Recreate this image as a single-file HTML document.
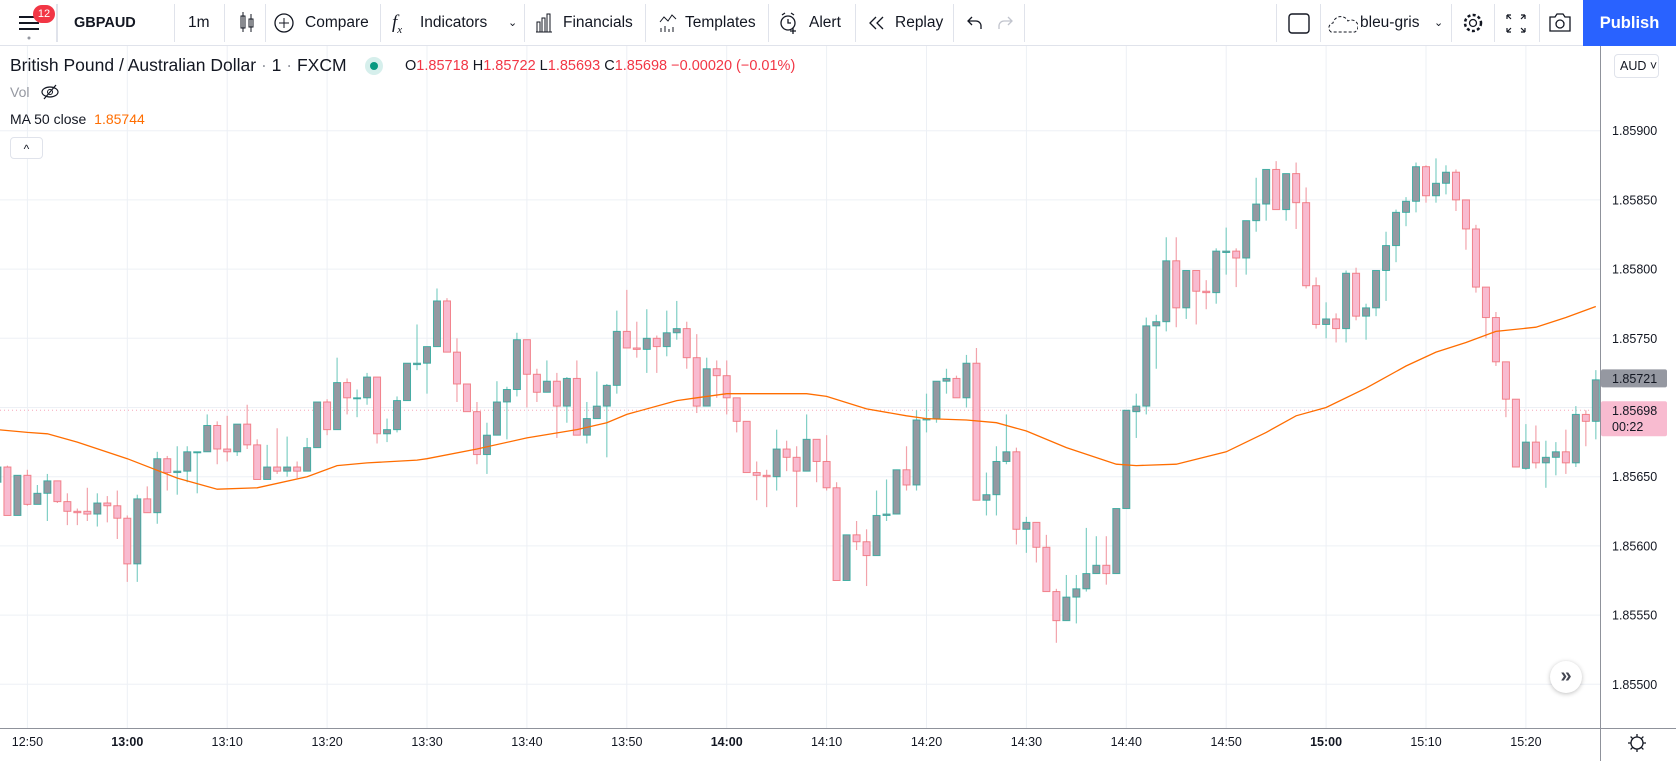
<!DOCTYPE html>
<html><head><meta charset="utf-8">
<style>
*{box-sizing:border-box;margin:0;padding:0}
body{width:1676px;height:761px;overflow:hidden;background:#fff;font-family:"Liberation Sans",sans-serif;color:#131722;position:relative}
.tb{position:absolute;left:0;top:0;width:1676px;height:46px;border-bottom:1px solid #e0e3eb;background:#fff}
.it{position:absolute;top:0;height:46px;line-height:46px;font-size:15.5px;color:#131722;white-space:nowrap}
.sep{position:absolute;top:4px;width:1px;height:38px;background:#e0e3eb}
.lg{position:absolute;white-space:nowrap}
</style></head><body>
<div class="tb">
  <div class="it" style="left:18px">
    <svg width="24" height="46"><rect x="1" y="16" width="20" height="2" fill="#131722"/><rect x="1" y="22" width="20" height="2" fill="#131722"/><rect x="1" y="28" width="20" height="2" fill="#131722"/><circle cx="11" cy="38" r="1.5" fill="#9598a1"/></svg>
  </div>
  <div style="position:absolute;left:33px;top:5px;width:22px;height:18px;border-radius:9px;background:#f23645;color:#fff;font-size:11px;line-height:18px;text-align:center">12</div>
  <div class="sep" style="left:56px;width:2px"></div>
  <div class="it" style="left:74px;font-weight:bold;font-size:14.5px">GBPAUD</div>
  <div class="sep" style="left:174px"></div>
  <div class="it" style="left:188px">1m</div>
  <div class="sep" style="left:224px"></div>
  <div class="it" style="left:238px"><svg width="18" height="46"><rect x="3" y="16" width="4" height="12" fill="none" stroke="#131722"/><line x1="5" y1="12" x2="5" y2="32" stroke="#131722"/><rect x="11" y="19" width="4" height="8" fill="none" stroke="#131722"/><line x1="13" y1="14" x2="13" y2="32" stroke="#131722"/></svg></div>
  <div class="sep" style="left:265px"></div>
  <div class="it" style="left:274px"><svg width="20" height="46" style="vertical-align:top"><circle cx="10" cy="23" r="9" fill="none" stroke="#131722" stroke-width="1.3"/><line x1="10" y1="18" x2="10" y2="28" stroke="#131722"/><line x1="5" y1="23" x2="15" y2="23" stroke="#131722"/></svg><span style="position:absolute;left:31px">Compare</span></div>
  <div class="sep" style="left:380px"></div>
  <div class="it" style="left:392px;font-style:italic;font-family:'Liberation Serif',serif;font-size:19px">f<sub style="font-size:11px">x</sub></div>
  <div class="it" style="left:420px">Indicators</div>
  <div class="it" style="left:508px;font-size:11px">⌄</div>
  <div class="sep" style="left:524px"></div>
  <div class="it" style="left:535px"><svg width="18" height="46" style="vertical-align:top"><path d="M2 32V22h3v10M7 32V18h3v14M12 32V14h3v18M1 32h16" fill="none" stroke="#131722"/></svg><span style="position:absolute;left:28px">Financials</span></div>
  <div class="sep" style="left:645px"></div>
  <div class="it" style="left:659px"><svg width="18" height="46" style="vertical-align:top"><path d="M1 22l4-5 4 4 4-6 4 4" fill="none" stroke="#131722"/><path d="M2 32v-4M6 32v-6M10 32v-3M14 32v-5" stroke="#131722"/></svg><span style="position:absolute;left:26px">Templates</span></div>
  <div class="sep" style="left:768px"></div>
  <div class="it" style="left:779px"><svg width="20" height="46" style="vertical-align:top"><circle cx="9" cy="23" r="7" fill="none" stroke="#131722" stroke-width="1.3"/><path d="M9 19v4h3M3 15l3-2M15 15l-3-2M14 28v6M11 31h6" fill="none" stroke="#131722" stroke-width="1.3"/></svg><span style="position:absolute;left:30px">Alert</span></div>
  <div class="sep" style="left:855px"></div>
  <div class="it" style="left:868px"><svg width="18" height="46" style="vertical-align:top"><path d="M8 17l-6 6 6 6M15 17l-6 6 6 6" fill="none" stroke="#131722" stroke-width="1.3"/></svg><span style="position:absolute;left:27px">Replay</span></div>
  <div class="sep" style="left:953px"></div>
  <div class="it" style="left:966px"><svg width="18" height="46"><path d="M6 17l-4 4 4 4M2 21h8a5 5 0 0 1 5 5v3" fill="none" stroke="#131722" stroke-width="1.3"/></svg></div>
  <div class="it" style="left:996px"><svg width="18" height="46"><path d="M12 17l4 4-4 4M16 21H8a5 5 0 0 0-5 5v3" fill="none" stroke="#c1c4cd" stroke-width="1.3"/></svg></div>
  <div class="sep" style="left:1024px"></div>
  <div class="sep" style="left:1276px"></div>
  <div class="it" style="left:1288px"><svg width="22" height="46"><rect x="1" y="14" width="20" height="19" rx="3" fill="none" stroke="#131722" stroke-width="1.4"/></svg></div>
  <div class="sep" style="left:1320px"></div>
  <div class="it" style="left:1328px"><svg width="30" height="46" style="vertical-align:top"><path d="M3 32a5 5 0 0 1 2-9 8 8 0 0 1 15-2 6 6 0 0 1 7 11z" fill="none" stroke="#131722" stroke-dasharray="3 2"/></svg><span style="position:absolute;left:32px">bleu-gris</span></div>
  <div class="it" style="left:1434px;font-size:11px">⌄</div>
  <div class="sep" style="left:1451px"></div>
  <div class="it" style="left:1461px"><svg width="24" height="46"><circle cx="12" cy="23" r="3.5" fill="none" stroke="#131722" stroke-width="1.3"/><circle cx="12" cy="23" r="8" fill="none" stroke="#131722" stroke-width="2.5" stroke-dasharray="3 2.3"/></svg></div>
  <div class="sep" style="left:1494px"></div>
  <div class="it" style="left:1505px"><svg width="22" height="46"><path d="M2 15h4M2 15v4M2 15l4 4M20 15h-4M20 15v4M20 15l-4 4M2 32h4M2 32v-4M2 32l4-4M20 32h-4M20 32v-4M20 32l-4-4" fill="none" stroke="#131722" stroke-width="1.2"/></svg></div>
  <div class="sep" style="left:1539px"></div>
  <div class="it" style="left:1548px"><svg width="24" height="46"><path d="M2 17h5l2-3h6l2 3h5v14H2z" fill="none" stroke="#131722" stroke-width="1.3"/><circle cx="12" cy="24" r="4" fill="none" stroke="#131722" stroke-width="1.3"/></svg></div>
  <div style="position:absolute;left:1583px;top:0;width:93px;height:46px;background:#2962ff;color:#fff;font-size:16.5px;font-weight:bold;line-height:46px;text-align:center">Publish</div>
</div>

<svg id="chart" width="1676" height="761" style="position:absolute;left:0;top:0"></svg>

<div class="lg" style="left:10px;top:55px;font-size:17.5px">British Pound / Australian Dollar <span style="color:#9598a1">·</span> 1 <span style="color:#9598a1">·</span> FXCM</div>
<div style="position:absolute;left:365px;top:57px;width:18px;height:18px;border-radius:9px;background:#d6efec"><div style="margin:5px;width:8px;height:8px;border-radius:4px;background:#089981"></div></div>
<div class="lg" style="left:405px;top:58px;font-size:14.5px;color:#f23645"><span style="color:#131722">O</span>1.85718 <span style="color:#131722">H</span>1.85722 <span style="color:#131722">L</span>1.85693 <span style="color:#131722">C</span>1.85698 −0.00020 (−0.01%)</div>
<div class="lg" style="left:10px;top:84px;font-size:14px;color:#9598a1">Vol</div>
<svg style="position:absolute;left:40px;top:82px" width="22" height="20"><ellipse cx="10" cy="10" rx="8" ry="5" fill="none" stroke="#131722" stroke-width="1.2"/><circle cx="10" cy="10" r="2.5" fill="none" stroke="#131722"/><line x1="4" y1="17" x2="16" y2="3" stroke="#131722" stroke-width="1.2"/></svg>
<div class="lg" style="left:10px;top:111px;font-size:14px">MA 50 close <span style="color:#ff6d00;margin-left:4px">1.85744</span></div>
<div style="position:absolute;left:10px;top:137px;width:33px;height:22px;border:1px solid #e0e3eb;border-radius:4px;background:#fff;text-align:center;font-size:12px;line-height:22px">^</div>
<div style="position:absolute;left:1614px;top:54px;width:45px;height:24px;border:1px solid #e0e3eb;border-radius:4px;background:#fff;font-size:12.5px;line-height:22px;padding-left:5px">AUD ˅</div>
<div style="position:absolute;left:1550px;top:661px;width:32px;height:32px;border-radius:16px;background:#fff;box-shadow:0 1px 5px rgba(0,0,0,.25);text-align:center;line-height:30px;font-size:20px;font-weight:bold;color:#434651">»</div>
<svg style="position:absolute;left:1626px;top:732px" width="22" height="22"><circle cx="11" cy="11" r="6" fill="none" stroke="#131722" stroke-width="1.3"/><path d="M11 2v3M11 17v3M2 11h3M17 11h3M4.6 4.6l2 2M15.4 15.4l2 2M4.6 17.4l2-2M15.4 6.6l2-2" stroke="#131722" stroke-width="1.3"/></svg>

<script>
const firstMinute = 767; // 12:47
const opens = [1.85646,1.85657,1.85622,1.85651,1.85630,1.85638,1.85647,1.85632,1.85625,1.85625,1.85623,1.85631,1.85629,
1.85620,1.85587,1.85634,1.85624,1.85663,1.85653,1.85654,1.85668,1.85668,1.85687,
1.85670,1.85668,1.85688,1.85673,1.85648,1.85657,1.85654,1.85657,1.85654,1.85671,
1.85704,1.85684,1.85718,1.85707,1.85707,1.85722,1.85681,1.85684,1.85705,1.85731,
1.85732,1.85744,1.85777,1.85740,1.85717,1.85697,1.85666,1.85680,1.85704,1.85713,
1.85749,1.85724,1.85711,1.85719,1.85701,1.85721,1.85680,1.85692,1.85701,1.85716,
1.85755,1.85743,1.85742,1.85750,1.85744,1.85754,1.85757,1.85736,1.85701,1.85728,
1.85723,1.85707,1.85690,1.85653,1.85651,1.85650,1.85670,1.85664,1.85654,1.85677,
1.85661,1.85642,1.85575,1.85608,1.85603,1.85593,1.85622,1.85623,1.85655,1.85644,
1.85691,1.85692,1.85719,1.85721,1.85707,1.85732,1.85633,1.85637,1.85661,1.85668,
1.85612,1.85617,1.85599,1.85567,1.85546,1.85563,1.85569,1.85580,1.85586,1.85580,
1.85627,1.85697,1.85701,1.85759,1.85762,1.85806,1.85772,1.85799,1.85784,1.85783,
1.85812,1.85813,1.85808,1.85835,1.85847,1.85872,1.85843,1.85869,1.85848,1.85788,
1.85760,1.85764,1.85757,1.85797,1.85766,1.85772,1.85799,1.85817,1.85841,1.85849,
1.85874,1.85853,1.85862,1.85870,1.85850,1.85829,1.85787,1.85765,1.85733,1.85706,
1.85656,1.85675,1.85660,1.85664,1.85668,1.85660,1.85695,1.85690];
const highs = [1.85658,1.85658,1.85651,1.85655,1.85644,1.85652,1.85647,1.85638,1.85627,1.85642,1.85638,1.85636,1.85640,
1.85622,1.85637,1.85643,1.85668,1.85665,1.85672,1.85672,1.85668,1.85695,1.85690,
1.85694,1.85688,1.85702,1.85677,1.85673,1.85685,1.85679,1.85661,1.85678,1.85704,
1.85706,1.85736,1.85721,1.85713,1.85725,1.85722,1.85692,1.85708,1.85732,1.85760,
1.85744,1.85786,1.85779,1.85750,1.85717,1.85704,1.85689,1.85719,1.85715,1.85754,
1.85749,1.85728,1.85734,1.85725,1.85722,1.85734,1.85704,1.85726,1.85717,1.85770,
1.85785,1.85762,1.85771,1.85752,1.85770,1.85777,1.85762,1.85753,1.85736,1.85734,
1.85734,1.85707,1.85690,1.85661,1.85655,1.85684,1.85676,1.85672,1.85695,1.85677,
1.85680,1.85646,1.85608,1.85618,1.85612,1.85640,1.85648,1.85655,1.85672,1.85698,
1.85710,1.85719,1.85728,1.85723,1.85738,1.85743,1.85653,1.85672,1.85695,1.85671,
1.85621,1.85617,1.85608,1.85569,1.85579,1.85579,1.85613,1.85607,1.85607,1.85627,
1.85698,1.85710,1.85765,1.85767,1.85823,1.85823,1.85799,1.85799,1.85792,1.85815,
1.85830,1.85815,1.85835,1.85866,1.85872,1.85878,1.85869,1.85877,1.85859,1.85794,
1.85776,1.85768,1.85799,1.85801,1.85775,1.85799,1.85827,1.85843,1.85852,1.85877,
1.85875,1.85880,1.85875,1.85872,1.85850,1.85832,1.85787,1.85769,1.85733,1.85706,
1.85688,1.85687,1.85676,1.85675,1.85684,1.85701,1.85698,1.85727];
const lows = [1.85646,1.85622,1.85622,1.85629,1.85630,1.85618,1.85631,1.85615,1.85615,1.85618,1.85614,1.85617,1.85605,
1.85574,1.85574,1.85624,1.85616,1.85640,1.85637,1.85646,1.85638,1.85668,1.85659,
1.85661,1.85665,1.85670,1.85648,1.85648,1.85652,1.85650,1.85649,1.85654,1.85671,
1.85680,1.85684,1.85695,1.85693,1.85702,1.85674,1.85675,1.85682,1.85705,1.85727,
1.85710,1.85744,1.85740,1.85704,1.85697,1.85659,1.85652,1.85680,1.85677,1.85708,
1.85700,1.85704,1.85711,1.85678,1.85689,1.85680,1.85674,1.85692,1.85664,1.85710,
1.85743,1.85736,1.85725,1.85725,1.85737,1.85749,1.85728,1.85696,1.85701,1.85707,
1.85695,1.85682,1.85653,1.85633,1.85628,1.85640,1.85654,1.85628,1.85654,1.85646,
1.85640,1.85575,1.85575,1.85597,1.85571,1.85593,1.85618,1.85623,1.85640,1.85640,
1.85682,1.85689,1.85710,1.85707,1.85700,1.85633,1.85622,1.85622,1.85659,1.85601,
1.85595,1.85588,1.85567,1.85530,1.85546,1.85544,1.85567,1.85580,1.85572,1.85580,
1.85627,1.85678,1.85695,1.85728,1.85755,1.85758,1.85764,1.85760,1.85771,1.85775,
1.85796,1.85787,1.85796,1.85827,1.85835,1.85843,1.85835,1.85829,1.85786,1.85757,
1.85750,1.85747,1.85747,1.85763,1.85749,1.85766,1.85777,1.85805,1.85831,1.85841,
1.85848,1.85848,1.85854,1.85842,1.85814,1.85783,1.85750,1.85730,1.85693,1.85657,
1.85655,1.85656,1.85642,1.85651,1.85652,1.85657,1.85672,1.85677];
const closes = [1.85657,1.85622,1.85651,1.85630,1.85638,1.85647,1.85632,1.85625,1.85624,1.85623,1.85631,1.85629,1.85620,
1.85587,1.85634,1.85624,1.85663,1.85653,1.85654,1.85668,1.85668,1.85687,1.85670,
1.85668,1.85688,1.85673,1.85648,1.85657,1.85654,1.85657,1.85654,1.85671,1.85704,
1.85684,1.85718,1.85707,1.85707,1.85722,1.85681,1.85684,1.85705,1.85732,1.85732,
1.85744,1.85777,1.85740,1.85717,1.85697,1.85666,1.85680,1.85704,1.85713,1.85749,
1.85724,1.85711,1.85719,1.85701,1.85721,1.85680,1.85692,1.85701,1.85716,1.85755,
1.85743,1.85742,1.85750,1.85744,1.85754,1.85757,1.85736,1.85701,1.85728,1.85723,
1.85707,1.85690,1.85653,1.85651,1.85650,1.85670,1.85664,1.85654,1.85677,1.85661,
1.85642,1.85575,1.85608,1.85603,1.85593,1.85622,1.85623,1.85655,1.85644,1.85691,
1.85692,1.85719,1.85721,1.85707,1.85732,1.85633,1.85637,1.85661,1.85668,1.85612,
1.85617,1.85599,1.85567,1.85546,1.85563,1.85569,1.85580,1.85586,1.85580,1.85627,
1.85698,1.85701,1.85759,1.85762,1.85806,1.85772,1.85799,1.85784,1.85783,1.85813,
1.85813,1.85808,1.85835,1.85847,1.85872,1.85843,1.85869,1.85848,1.85788,1.85760,
1.85764,1.85757,1.85797,1.85766,1.85772,1.85799,1.85817,1.85841,1.85849,1.85874,
1.85853,1.85862,1.85870,1.85850,1.85829,1.85787,1.85765,1.85733,1.85706,1.85657,
1.85675,1.85660,1.85664,1.85668,1.85660,1.85695,1.85690,1.85720];
const maMinutes = [767,770,772,775,780,785,789,793,798,801,804,809,810,815,820,825,828,830,835,837,840,845,848,850,854,858,860,864,867,870,874,879,881,885,890,894,897,900,904,908,911,914,917,921,924,927];
const maValues = [1.85684,1.85682,1.85681,1.85675,1.85663,1.85649,1.85641,1.85642,1.85650,1.85658,1.85660,1.85662,1.85663,1.85670,1.85678,1.85684,1.85689,1.85695,1.85705,1.85707,1.85710,1.85710,1.85710,1.85708,1.85699,1.85694,1.85692,1.85691,1.85689,1.85683,1.85671,1.85659,1.85658,1.85659,1.85668,1.85682,1.85694,1.85700,1.85714,1.85730,1.85740,1.85747,1.85755,1.85758,1.85765,1.85773];
const priceTicks = [1.855,1.8555,1.856,1.8565,1.857,1.8575,1.858,1.8585,1.859];
const timeTickMinutes = [770,780,790,800,810,820,830,840,850,860,870,880,890,900,910,920];
const timeTickLabels = ["12:50","13:00","13:10","13:20","13:30","13:40","13:50","14:00","14:10","14:20","14:30","14:40","14:50","15:00","15:10","15:20"];
const lastPrice = 1.85698;
const prevPrice = 1.85721;

const NS = "http://www.w3.org/2000/svg";
const svg = document.getElementById('chart');
const PW = 1600, TOP = 46, BOT = 728;
function yScale(p){ return 476.7 - (p - 1.8565) / 0.0005 * 69.2; }
function xScale(m){ return 127.3 + (m - 780) * 9.99; }
function mk(tag, attrs, parent){ const e = document.createElementNS(NS, tag); for (const k in attrs) e.setAttribute(k, attrs[k]); (parent||svg).appendChild(e); return e; }

const defs = mk('defs', {});
const cp = mk('clipPath', {id:'plot'}, defs);
mk('rect', {x:0, y:TOP, width:PW, height:BOT-TOP}, cp);
const plot = mk('g', {'clip-path':'url(#plot)'});



priceTicks.forEach(p => {
  const g = mk('line', {x1:0, x2:PW, y1:yScale(p), y2:yScale(p), stroke:'#edf0f5', 'stroke-width':1}, plot);
  
  
});
timeTickMinutes.forEach(m => {
  const g = mk('line', {x1:xScale(m), x2:xScale(m), y1:TOP, y2:BOT, stroke:'#edf0f5', 'stroke-width':1}, plot);
  
  
});
const lp = mk('line', {x1:0, x2:PW, y1:yScale(lastPrice), y2:yScale(lastPrice), stroke:'#f7a6b8', 'stroke-dasharray':'1 3', 'stroke-width':1}, plot);



for (let i = 0; i < opens.length; i++) {
  const x = xScale(firstMinute + i);
  const o = opens[i], c = closes[i], h = highs[i], l = lows[i];
  const up = c >= o;
  const g = mk('g', {}, plot);
  
  
  mk('line', {x1:x, x2:x, y1:yScale(h), y2:yScale(l), stroke: up ? '#80cfc5' : '#f2a3ab', 'stroke-width':1.2}, g);
  const yt = yScale(Math.max(o, c)), yb = yScale(Math.min(o, c));
  mk('rect', {x:x-3.5, y:yt, width:7, height:Math.max(1, yb-yt), fill: up ? '#9598a1' : '#f8bbd0', stroke: up ? '#26a69a' : '#ef6b74', 'stroke-width':1, 'stroke-opacity':0.8}, g);
}

const maPts = maMinutes.map((m, i) => xScale(m).toFixed(1) + ',' + yScale(maValues[i]).toFixed(1)).join(' ');
const ma = mk('polyline', {points:maPts, fill:'none', stroke:'#ff6d00', 'stroke-width':1.3}, plot);



const ab = mk('line', {x1:PW+0.5, x2:PW+0.5, y1:TOP, y2:761, stroke:'#8f929b', 'stroke-width':1});


const tb = mk('line', {x1:0, x2:1676, y1:BOT+0.5, y2:BOT+0.5, stroke:'#8f929b', 'stroke-width':1});



priceTicks.forEach(p => {
  const t = mk('text', {x:1612, y:yScale(p)+4.5, 'font-size':12.5, fill:'#131722', 'font-family':'Liberation Sans, sans-serif'});
  t.textContent = p.toFixed(5);
  
  
});
timeTickMinutes.forEach((m, i) => {
  const lbl = timeTickLabels[i];
  const t = mk('text', {x:xScale(m), y:746, 'font-size':12.5, fill:'#131722', 'text-anchor':'middle', 'font-family':'Liberation Sans, sans-serif', 'font-weight': lbl.endsWith(':00') ? 'bold' : 'normal'});
  t.textContent = lbl;
  
  
});

const py = yScale(prevPrice);
const pb = mk('g', {});


mk('rect', {x:1601, y:py-9, width:66, height:18, rx:2, fill:'#9598a1'}, pb);
const pt = mk('text', {x:1612, y:py+4.5, 'font-size':12.5, fill:'#131722', 'font-family':'Liberation Sans, sans-serif'}, pb);
pt.textContent = prevPrice.toFixed(5);
const ly = yScale(lastPrice);
const lb = mk('g', {});


mk('rect', {x:1601, y:ly-9, width:66, height:35, rx:2, fill:'#f8bbd0'}, lb);
const lt = mk('text', {x:1612, y:ly+4.5, 'font-size':12.5, fill:'#131722', 'font-family':'Liberation Sans, sans-serif'}, lb);
lt.textContent = lastPrice.toFixed(5);
const ct = mk('text', {x:1612, y:ly+20.5, 'font-size':12.5, fill:'#131722', 'font-family':'Liberation Sans, sans-serif'}, lb);
ct.textContent = '00:22';
</script>
</body></html>
